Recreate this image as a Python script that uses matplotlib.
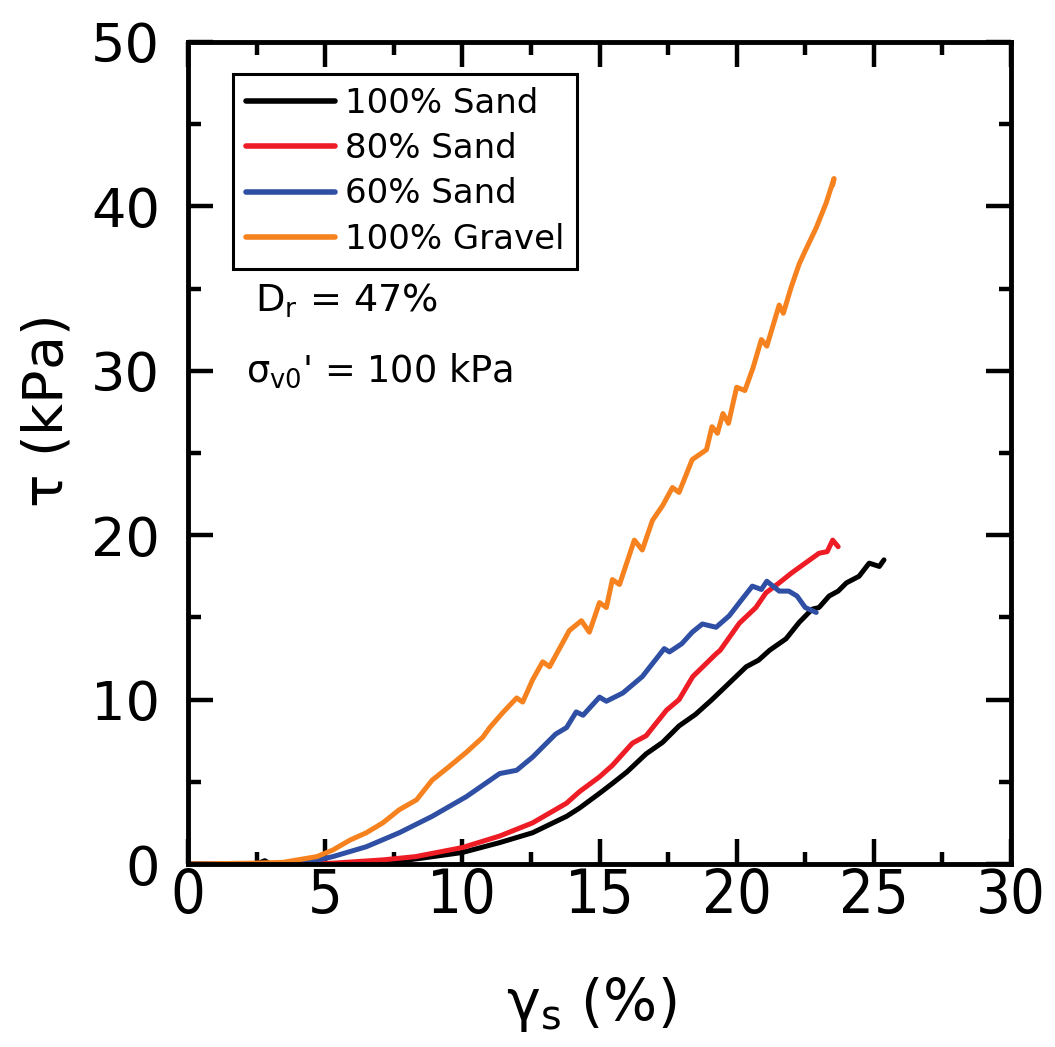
import matplotlib
matplotlib.use("Agg")
import matplotlib.pyplot as plt
from matplotlib.ticker import MultipleLocator

# ---- data ----
labels = ["100% Sand", "80% Sand", "60% Sand", "100% Gravel"]
colors = ["#000000", "#ee1c25", "#2e4fa3", "#f6821f"]

sand100_x = [0, 2.5, 2.8, 3.0, 5.0, 7.1, 8.5, 10.0, 11.36, 12.56, 13.8, 14.27, 15.0, 15.47,
             16.0, 16.7, 17.3, 17.9, 18.5, 19.1, 19.6, 20.35, 20.8, 21.2, 21.8, 22.28, 22.75,
             23.0, 23.37, 23.7, 24.0, 24.46, 24.83, 25.2, 25.37]
sand100_y = [0, 0, 0.2, 0, 0, 0.05, 0.35, 0.7, 1.3, 1.9, 2.9, 3.4, 4.3, 4.9,
             5.6, 6.7, 7.4, 8.4, 9.1, 10.0, 10.8, 12.0, 12.4, 13.0, 13.7, 14.7, 15.5,
             15.6, 16.3, 16.6, 17.1, 17.5, 18.3, 18.1, 18.5]

sand80_x = [0, 4.0, 5.28, 7.1, 8.3, 10.0, 11.36, 12.56, 13.8, 14.27, 15.0, 15.47, 16.2, 16.7,
            17.44, 17.9, 18.4, 19.26, 19.4, 20.1, 20.7, 21.07, 21.55, 22.0, 22.5, 23.0, 23.3,
            23.5, 23.7]
sand80_y = [0, 0, 0.05, 0.25, 0.45, 1.0, 1.7, 2.5, 3.7, 4.4, 5.3, 6.0, 7.35, 7.8,
            9.35, 10.0, 11.4, 12.8, 13.0, 14.65, 15.6, 16.5, 17.1, 17.7, 18.3, 18.9, 19.0,
            19.7, 19.3]

sand60_x = [0, 4.1, 5.28, 6.5, 7.7, 8.9, 10.15, 11.36, 11.98, 12.56, 13.4, 13.8, 14.15, 14.4,
            15.0, 15.25, 15.85, 16.56, 17.36, 17.55, 18.0, 18.38, 18.75, 19.25, 19.73, 20.1,
            20.57, 20.9, 21.1, 21.55, 21.9, 22.2, 22.5, 22.9]
sand60_y = [0, 0, 0.45, 1.05, 1.9, 2.9, 4.1, 5.5, 5.7, 6.5, 7.9, 8.3, 9.25, 9.05,
            10.15, 9.9, 10.4, 11.4, 13.1, 12.9, 13.4, 14.1, 14.6, 14.4, 15.1, 15.9,
            16.9, 16.7, 17.2, 16.6, 16.6, 16.3, 15.6, 15.3]

gravel_x = [0, 2.26, 3.46, 4.7, 5.28, 5.9, 6.5, 7.1, 7.7, 8.33, 8.9, 9.5, 10.15, 10.74, 11.0,
            11.47, 11.98, 12.2, 12.56, 12.93, 13.18, 13.9, 14.34, 14.63, 15.0, 15.25, 15.47,
            15.73, 16.27, 16.56, 16.93, 17.3, 17.66, 17.9, 18.38, 18.9, 19.1, 19.3, 19.5, 19.7,
            20.0, 20.3, 20.6, 20.9, 21.1, 21.55, 21.7, 21.99, 22.28, 22.5, 22.9, 23.26, 23.55,
            23.5]
gravel_y = [0, 0.05, 0.1, 0.45, 0.85, 1.45, 1.9, 2.5, 3.3, 3.9, 5.1, 5.9, 6.8, 7.7, 8.3,
            9.2, 10.1, 9.85, 11.2, 12.3, 12.0, 14.2, 14.8, 14.1, 15.9, 15.6, 17.3,
            17.0, 19.7, 19.1, 20.9, 21.8, 22.9, 22.6, 24.6, 25.2, 26.6, 26.2, 27.4, 26.8,
            29.0, 28.8, 30.2, 31.9, 31.5, 34.0, 33.5, 35.1, 36.5, 37.3, 38.7, 40.2, 41.7,
            41.3]

series_x = [sand100_x, sand80_x, sand60_x, gravel_x]
series_y = [sand100_y, sand80_y, sand60_y, gravel_y]

x_ticks = [0, 5, 10, 15, 20, 25, 30]
y_ticks = [0, 10, 20, 30, 40, 50]

# ---- figure ----
W, H = 1055, 1047
fig = plt.figure(figsize=(W / 100, H / 100), dpi=100)
ax = fig.add_axes([188 / W, 1 - 864 / H, (1011 - 188) / W, (864 - 42) / H])

for xs, ys, c, lab in zip(series_x, series_y, colors, labels):
    ax.plot(xs, ys, color=c, lw=3.6, label=lab, solid_joinstyle="round",
            solid_capstyle="round")

ax.set_xlim(0, 30)
ax.set_ylim(0, 50)
ax.set_xticks(x_ticks)
ax.set_yticks(y_ticks)
ax.xaxis.set_minor_locator(MultipleLocator(2.5))
ax.yaxis.set_minor_locator(MultipleLocator(5))

for s in ax.spines.values():
    s.set_linewidth(3.5)

ax.tick_params(which="both", direction="in", top=True, right=True, width=3.2)
ax.tick_params(which="major", length=18)
ax.tick_params(which="minor", length=9)
ax.tick_params(axis="y", which="major", labelsize=39, pad=20)
ax.tick_params(axis="x", which="major", labelsize=44, pad=2)
for t in ax.get_xticklabels():
    t.set_fontstretch("condensed")

ax.set_xlabel(r"$\mathregular{\gamma_s}$ (%)", fontsize=41)
ax.xaxis.set_label_coords(0.49, -0.135)
ax.set_ylabel(r"$\mathregular{\tau}$ (kPa)", fontsize=40)
ax.yaxis.set_label_coords(-0.138, 0.55)

leg = ax.legend(loc="upper left", bbox_to_anchor=(0.055, 0.961), fontsize=24.5,
                frameon=True, fancybox=False, edgecolor="black", handlelength=2.6,
                handletextpad=0.3, labelspacing=0.36, borderpad=0.38,
                borderaxespad=0, framealpha=1)
leg.get_frame().set_linewidth(2.2)
for line in leg.get_lines():
    line.set_linewidth(4)

ax.text(0.082, 0.685, r"$\mathregular{D_r}$ = 47%", transform=ax.transAxes,
        fontsize=27.5, va="center", ha="left")
ax.text(0.07, 0.6, r"$\mathregular{\sigma_{v0}}$' = 100 kPa", transform=ax.transAxes,
        fontsize=26.5, va="center", ha="left")

fig.savefig("out.png", dpi=100, facecolor="white")
